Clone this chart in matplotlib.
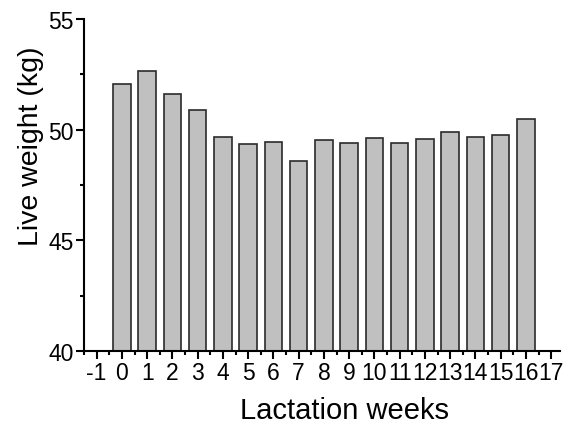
import numpy as np
import matplotlib
matplotlib.use("Agg")
import matplotlib.pyplot as plt
from matplotlib.ticker import MultipleLocator

plt.rcParams['font.family'] = ['Liberation Sans', 'DejaVu Sans']

# live weight per lactation week
weeks = list(range(0, 17))
weight = [52.05, 52.65, 51.6, 50.9, 49.65, 49.35, 49.43, 48.6, 49.55,
          49.42, 49.62, 49.42, 49.6, 49.9, 49.65, 49.77, 50.5]
xtick_labels = [str(i) for i in range(-1, 18)]

fig = plt.figure(figsize=(5.65, 4.27), dpi=100)
ax = fig.add_axes([84 / 565, 1 - 352 / 427, (560 - 84) / 565, (352 - 20) / 427])

ax.bar(weeks, weight, width=0.7, bottom=0, color="#c0c0c0",
       edgecolor="#2b2b2b", linewidth=1.2)

ax.set_xlim(-1.5, 17.35)
ax.set_ylim(40, 55)
ax.set_xticks(range(-1, 18))
ax.set_xticklabels(xtick_labels)
ax.xaxis.set_minor_locator(MultipleLocator(0.5))
ax.yaxis.set_major_locator(MultipleLocator(5))
ax.yaxis.set_minor_locator(MultipleLocator(2.5))

for s in ["top", "right"]:
    ax.spines[s].set_visible(False)
for s in ["left", "bottom"]:
    ax.spines[s].set_linewidth(1.5)

ax.tick_params(which="major", direction="out", length=5.5, width=1.5,
               labelsize=16.5, pad=2)
ax.tick_params(which="minor", direction="out", length=3, width=1.5)

ax.set_xlabel("Lactation weeks", fontsize=21)
ax.set_ylabel("Live weight (kg)", fontsize=20.5)
ax.xaxis.set_label_coords(0.548, -0.135)
ax.yaxis.set_label_coords(-0.085, 0.62)

plt.savefig("out.png", dpi=100)
